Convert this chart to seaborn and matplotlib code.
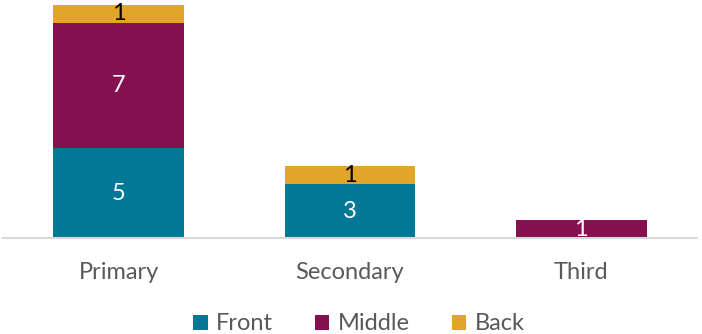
import numpy as np
import matplotlib
matplotlib.use('Agg')
import matplotlib.pyplot as plt
from matplotlib.patches import Patch
import seaborn as sns

categories = ['Primary', 'Secondary', 'Third']
series_names = ['Front', 'Middle', 'Back']
front = [5, 3, 0]
middle = [7, 0, 1]
back = [1, 1, 0]
colors = ['#007896', '#84104F', '#E2A52A']
label_colors = ['white', 'white', 'black']

sns.set_theme(style='white')
plt.rcParams['font.family'] = ['Lato', 'DejaVu Sans']

fig = plt.figure(figsize=(7.02, 3.34), dpi=100)
ax = fig.add_axes([3 / 702, 1 - 238 / 334, 694 / 702, 233 / 334])

values = [front, middle, back]
cum = np.cumsum(np.array(values), axis=0)

# draw cumulative totals back to front so each segment shows its own colour
for i in range(len(series_names) - 1, -1, -1):
    sns.barplot(x=categories, y=cum[i], color=colors[i], width=0.566,
                saturation=1, ax=ax, edgecolor='none', linewidth=0)

for i, name in enumerate(series_names):
    for j, cat in enumerate(categories):
        v = values[i][j]
        if v == 0:
            continue
        mid = cum[i][j] - v / 2
        ax.text(j, mid, str(v), ha='center', va='center', fontsize=17,
                color=label_colors[i])

ax.set_xlim(-0.5, 2.5)
ax.set_ylim(0, 13)
ax.set_yticks([])
ax.set_ylabel('')
for s in ['top', 'right', 'left']:
    ax.spines[s].set_visible(False)
ax.spines['bottom'].set_color('#D9D9D9')
ax.spines['bottom'].set_linewidth(1.5)
ax.tick_params(axis='x', length=0, pad=17, labelsize=17, labelcolor='#595959')

handles = [Patch(facecolor=c, edgecolor='none') for c in colors]
fig.legend(handles, series_names, loc='center', bbox_to_anchor=(359 / 702, 1 - 324 / 334),
           ncol=3, frameon=False, fontsize=17, labelcolor='#595959',
           handlelength=0.6, handleheight=0.6, handletextpad=0.35, columnspacing=1.8,
           borderpad=0)

fig.savefig('out.png', dpi=100)
